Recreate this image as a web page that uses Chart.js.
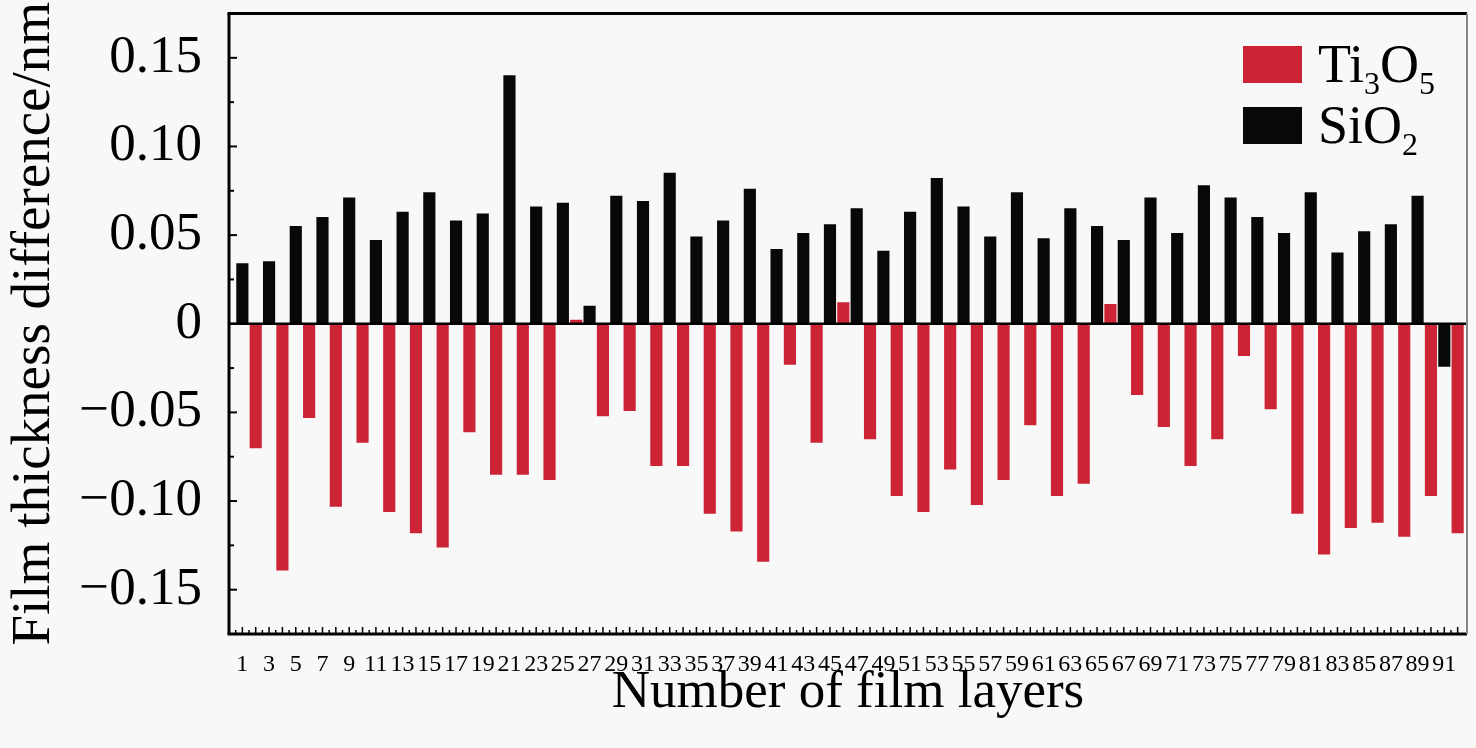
<!DOCTYPE html>
<html>
<head>
<meta charset="utf-8">
<script src="https://cdn.jsdelivr.net/npm/chart.js@4.4.1/dist/chart.umd.min.js"></script>
<style>
  html, body { margin: 0; padding: 0; background: #f8f8f8; }
  canvas { display: block; }
</style>
</head>
<body>
<canvas id="chart" width="1476" height="748"></canvas>
<script>
// even layers: Ti3O5, odd layers: SiO2
const ti3o5Layers = [2, 4, 6, 8, 10, 12, 14, 16, 18, 20, 22, 24, 26, 28, 30, 32, 34, 36, 38, 40, 42, 44, 46,
  48, 50, 52, 54, 56, 58, 60, 62, 64, 66, 68, 70, 72, 74, 76, 78, 80, 82, 84, 86, 88, 90, 92];
const ti3o5Values = [-0.070, -0.139, -0.053, -0.103, -0.067, -0.106, -0.118, -0.126, -0.061, -0.085, -0.085,
  -0.088, 0.002, -0.052, -0.049, -0.080, -0.080, -0.107, -0.117, -0.134, -0.023, -0.067, 0.012,
  -0.065, -0.097, -0.106, -0.082, -0.102, -0.088, -0.057, -0.097, -0.090, 0.011, -0.040, -0.058,
  -0.080, -0.065, -0.018, -0.048, -0.107, -0.130, -0.115, -0.112, -0.120, -0.097, -0.118];

const sio2Layers = [1, 3, 5, 7, 9, 11, 13, 15, 17, 19, 21, 23, 25, 27, 29, 31, 33, 35, 37, 39, 41, 43, 45,
  47, 49, 51, 53, 55, 57, 59, 61, 63, 65, 67, 69, 71, 73, 75, 77, 79, 81, 83, 85, 87, 89, 91];
const sio2Values = [0.034, 0.035, 0.055, 0.060, 0.071, 0.047, 0.063, 0.074, 0.058, 0.062, 0.140,
  0.066, 0.068, 0.010, 0.072, 0.069, 0.085, 0.049, 0.058, 0.076, 0.042, 0.051, 0.056,
  0.065, 0.041, 0.063, 0.082, 0.066, 0.049, 0.074, 0.048, 0.065, 0.055, 0.047, 0.071,
  0.051, 0.078, 0.071, 0.060, 0.051, 0.074, 0.040, 0.052, 0.056, 0.072, -0.024];

const yTickValues = [-0.15, -0.10, -0.05, 0, 0.05, 0.10, 0.15];
const yMinorTicks = [-0.125, -0.075, -0.025, 0.025, 0.075, 0.125];
const allLayers = [...sio2Layers, ...ti3o5Layers].sort((a, b) => a - b);

const redColor = '#cc2435';
const blackColor = '#080808';
const serif = "'Liberation Serif', 'Times New Roman', serif";

const legendItems = [
  { color: redColor, parts: [['Ti', 0], ['3', 1], ['O', 0], ['5', 1]] },
  { color: blackColor, parts: [['SiO', 0], ['2', 1]] },
];

const frameAndTicks = {
  id: 'frameAndTicks',
  afterDatasetsDraw(chart) {
    const { ctx, chartArea: a, scales: { x, y } } = chart;
    ctx.save();
    ctx.strokeStyle = '#000';
    const line = (x1, y1, x2, y2) => {
      ctx.beginPath(); ctx.moveTo(x1, y1); ctx.lineTo(x2, y2); ctx.stroke();
    };

    // zero line
    const y0 = y.getPixelForValue(0);
    ctx.lineWidth = 2.5;
    line(a.left, y0, a.right, y0);

    // y ticks, pointing in
    ctx.lineWidth = 2;
    yTickValues.forEach(v => { const p = y.getPixelForValue(v); line(a.left, p, a.left + 8, p); });
    yMinorTicks.forEach(v => { const p = y.getPixelForValue(v); line(a.left, p, a.left + 5, p); });

    // x ticks, pointing up
    ctx.lineWidth = 1.5;
    allLayers.forEach(l => {
      const p = x.getPixelForValue(l);
      line(p, a.bottom, p, a.bottom - 7);
      const h = x.getPixelForValue(l - 0.5);
      line(h, a.bottom, h, a.bottom - 4);
    });

    // frame
    ctx.lineWidth = 3;
    line(a.left - 1.5, a.top, a.right, a.top);
    line(a.left, a.top, a.left, a.bottom);
    line(a.left - 1.5, a.bottom, a.right, a.bottom);
    ctx.strokeStyle = '#888';
    ctx.lineWidth = 2;
    line(a.right, a.top, a.right, a.bottom);

    // legend
    const boxTops = [46, 107];
    const baselines = [82, 143];
    legendItems.forEach((item, i) => {
      ctx.fillStyle = item.color;
      ctx.fillRect(1243, boxTops[i], 59, 37);
      ctx.fillStyle = '#000';
      ctx.textBaseline = 'alphabetic';
      let tx = 1318;
      item.parts.forEach(([txt, sub]) => {
        ctx.font = (sub ? '32px ' : '54px ') + serif;
        ctx.fillText(txt, tx, baselines[i] + (sub ? 12 : 0));
        tx += ctx.measureText(txt).width;
      });
    });
    ctx.restore();
  }
};

new Chart(document.getElementById('chart'), {
  type: 'bar',
  data: {
    datasets: [
      {
        label: 'Ti3O5',
        data: ti3o5Layers.map((l, i) => ({ x: l, y: ti3o5Values[i] })),
        backgroundColor: redColor,
        grouped: false,
        barThickness: 11.5,
      },
      {
        label: 'SiO2',
        data: sio2Layers.map((l, i) => ({ x: l, y: sio2Values[i] })),
        backgroundColor: blackColor,
        grouped: false,
        barThickness: 11.5,
      },
    ],
  },
  options: {
    responsive: false,
    animation: false,
    layout: { padding: { top: 13.5, right: 9, left: 0, bottom: 0 } },
    plugins: { legend: { display: false }, tooltip: { enabled: false } },
    scales: {
      x: {
        type: 'linear',
        min: 0,
        max: 92.7,
        offset: false,
        grid: { display: false, drawTicks: false },
        border: { display: false },
        afterBuildTicks: (s) => { s.ticks = allLayers.map(v => ({ value: v })); },
        afterFit: (s) => { s.height = 114; s.paddingLeft = 0; s.paddingRight = 0; },
        ticks: {
          autoSkip: false,
          maxRotation: 0,
          padding: 16,
          color: '#000',
          font: { family: serif, size: 24 },
          callback: (v) => (v % 2 === 1 ? String(v) : ''),
        },
        title: {
          display: true,
          text: 'Number of film layers',
          color: '#000',
          font: { family: serif, size: 53, lineHeight: 1.2 },
          padding: { top: 0, bottom: 23 },
        },
      },
      y: {
        min: -0.175,
        max: 0.175,
        grid: { display: false, drawTicks: false },
        border: { display: false },
        afterBuildTicks: (s) => { s.ticks = yTickValues.map(v => ({ value: v })); },
        afterFit: (s) => { s.width = 229; s.paddingTop = 0; s.paddingBottom = 0; },
        ticks: {
          padding: 27,
          color: '#000',
          font: { family: serif, size: 53 },
          callback: (v) => {
            if (Math.abs(v) < 1e-9) return '0';
            const s = Math.abs(v).toFixed(2);
            return v < 0 ? '\u2212' + s : s;
          },
        },
        title: {
          display: true,
          text: 'Film thickness difference/nm',
          color: '#000',
          font: { family: serif, size: 55, lineHeight: 1.2 },
          padding: { top: 2, bottom: 0 },
        },
      },
    },
  },
  plugins: [frameAndTicks],
});
</script>
</body>
</html>
